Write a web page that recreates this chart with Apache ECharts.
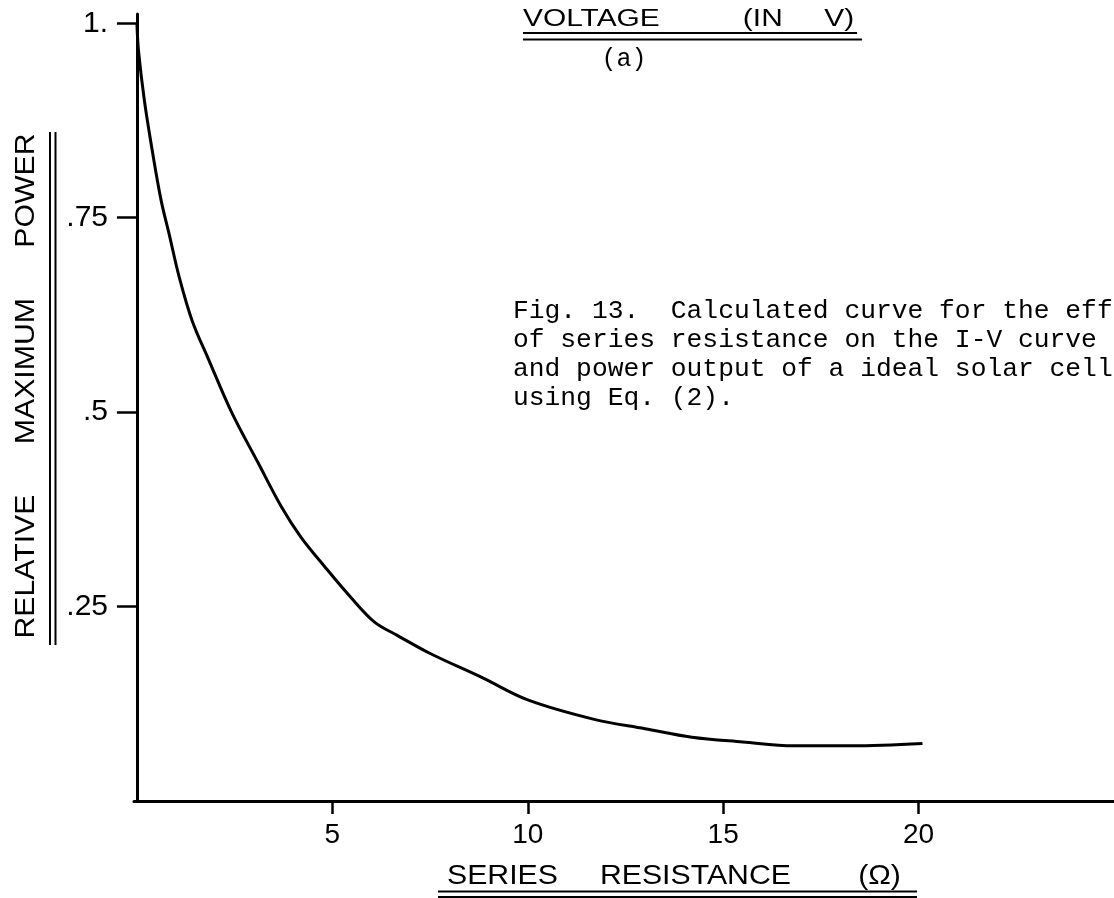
<!DOCTYPE html>
<html>
<head>
<meta charset="utf-8">
<script src="https://cdn.jsdelivr.net/npm/echarts@6/dist/echarts.min.js"></script>
<style>
  html, body { margin: 0; padding: 0; background: #ffffff; }
  #chart { width: 1114px; height: 898px; }
</style>
</head>
<body>
<div id="chart"></div>
<script>
// Series resistance (ohm) vs relative maximum power
const resistance = [0, 0.04, 0.19, 0.39, 0.62, 0.82, 1.08, 1.41, 1.84, 2.43, 3.11, 3.70, 4.20, 4.81, 5.47, 6.08, 6.66, 7.49, 8.86, 10.0, 11.7, 13.0, 14.2, 15.5, 16.8, 18.3, 20.1];
const relPower   = [1.0, 0.965, 0.901, 0.837, 0.772, 0.730, 0.674, 0.618, 0.567, 0.499, 0.434, 0.378, 0.339, 0.301, 0.262, 0.230, 0.213, 0.190, 0.158, 0.130, 0.105, 0.093, 0.082, 0.076, 0.071, 0.071, 0.074];

const xTickValues = [5, 10, 15, 20];
const xTickLabels = ['5', '10', '15', '20'];
const yTickValues = [0.25, 0.5, 0.75, 1];
const yTickLabels = ['.25', '.5', '.75', '1.'];

const xAxisTitle = 'SERIES     RESISTANCE        (\u03A9)';
const yAxisTitle = 'RELATIVE      MAXIMUM      POWER';
const topTitle = 'VOLTAGE          (IN     V)';
const panelLabel = '(a)';
const captionLines = [
  'Fig. 13.  Calculated curve for the effect',
  'of series resistance on the I-V curve',
  'and power output of a ideal solar cell',
  'using Eq. (2).'
];

const chart = echarts.init(document.getElementById('chart'), null, { renderer: 'canvas' });

const seriesData = resistance.map((r, i) => [r, relPower[i]]);
const fmt = (vals, labels) => (v) => {
  const i = vals.findIndex(t => Math.abs(t - v) < 1e-6);
  return i >= 0 ? labels[i] : '';
};

const sansFont = '"Liberation Sans", Arial, sans-serif';
const monoFont = '"Liberation Mono", "DejaVu Sans Mono", monospace';

const graphics = [];
// top title with double underline
graphics.push({ type: 'text', x: 523, y: 20, scaleX: 1.3, style: { text: topTitle, fontSize: 23, fontFamily: sansFont, fill: '#000', align: 'left', verticalAlign: 'middle' } });
graphics.push({ type: 'line', shape: { x1: 523, y1: 33, x2: 857, y2: 33 }, style: { stroke: '#000', lineWidth: 2 } });
graphics.push({ type: 'line', shape: { x1: 523, y1: 39.5, x2: 862, y2: 39.5 }, style: { stroke: '#000', lineWidth: 2 } });
graphics.push({ type: 'text', x: 624, y: 59, style: { text: panelLabel, fontSize: 25, fontFamily: monoFont, fill: '#000', align: 'center', verticalAlign: 'middle' } });
// caption
captionLines.forEach((t, i) => {
  graphics.push({ type: 'text', x: 513, y: 311 + i * 29, style: { text: t, fontSize: 26.3, fontFamily: monoFont, fill: '#000', align: 'left', verticalAlign: 'middle' } });
});
// x axis title with double underline
graphics.push({ type: 'text', x: 447, y: 876, scaleX: 1.08, style: { text: xAxisTitle, fontSize: 28, fontFamily: sansFont, fill: '#000', align: 'left', verticalAlign: 'middle' } });
graphics.push({ type: 'line', shape: { x1: 438, y1: 891.5, x2: 917, y2: 891.5 }, style: { stroke: '#000', lineWidth: 2 } });
graphics.push({ type: 'line', shape: { x1: 438, y1: 897, x2: 917, y2: 897 }, style: { stroke: '#000', lineWidth: 2 } });
// y axis title with double line
graphics.push({ type: 'text', x: 26, y: 386, rotation: Math.PI / 2, scaleX: 1.08, style: { text: yAxisTitle, fontSize: 28, fontFamily: sansFont, fill: '#000', align: 'center', verticalAlign: 'middle' } });
graphics.push({ type: 'line', shape: { x1: 50, y1: 132, x2: 50, y2: 645 }, style: { stroke: '#000', lineWidth: 2 } });
graphics.push({ type: 'line', shape: { x1: 55.5, y1: 132, x2: 55.5, y2: 645 }, style: { stroke: '#000', lineWidth: 2 } });

const option = {
  backgroundColor: '#ffffff',
  animation: false,
  grid: { left: 134, top: 14, width: 25.075 * 39.5, height: 787 },
  xAxis: {
    type: 'value',
    min: -0.075,
    max: 25,
    axisLine: { show: true, lineStyle: { color: '#000', width: 3 } },
    axisTick: { show: true, customValues: xTickValues, length: 13, inside: false, lineStyle: { color: '#000', width: 2.5 } },
    axisLabel: { show: true, customValues: xTickValues, formatter: fmt(xTickValues, xTickLabels), margin: 20, fontSize: 28, fontFamily: sansFont, color: '#000' },
    splitLine: { show: false }
  },
  yAxis: {
    type: 'value',
    min: 0,
    max: 1.012,
    axisLine: { show: true, lineStyle: { color: '#000', width: 3 } },
    axisTick: { show: true, customValues: yTickValues, length: 20, inside: false, lineStyle: { color: '#000', width: 2.5 } },
    axisLabel: { show: true, customValues: yTickValues, formatter: fmt(yTickValues, yTickLabels), margin: 26, fontSize: 30, fontFamily: sansFont, color: '#000' },
    splitLine: { show: false }
  },
  series: [{
    type: 'line',
    data: seriesData,
    showSymbol: false,
    symbol: 'none',
    smooth: 0.35,
    lineStyle: { color: '#000', width: 3 },
    clip: false
  }],
  graphic: { elements: graphics }
};
chart.setOption(option);
</script>
</body>
</html>
